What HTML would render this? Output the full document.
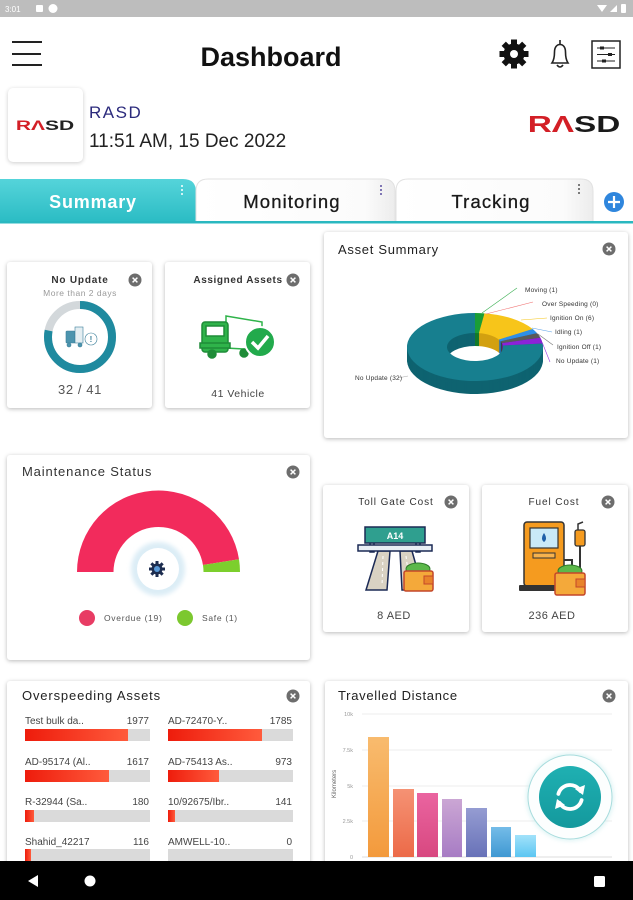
<!DOCTYPE html>
<html><head><meta charset="utf-8">
<style>
*{margin:0;padding:0;box-sizing:border-box}
html,body{width:633px;height:900px;overflow:hidden;background:#fff;font-family:"Liberation Sans",sans-serif}
body{position:relative}
.card{position:absolute;background:#fff;border-radius:3px;box-shadow:0 1px 4px rgba(0,0,0,.28)}
svg{position:absolute;left:0;top:0}
</style></head><body>
<div class="card" style="left:8px;top:88px;width:75px;height:74px;border-radius:5px;box-shadow:0 1px 4px rgba(0,0,0,.2)"></div>
<div class="card" style="left:7px;top:262px;width:145px;height:146px"></div>
<div class="card" style="left:165px;top:262px;width:145px;height:146px"></div>
<div class="card" style="left:324px;top:232px;width:304px;height:206px"></div>
<div class="card" style="left:7px;top:455px;width:303px;height:205px"></div>
<div class="card" style="left:323px;top:485px;width:146px;height:147px"></div>
<div class="card" style="left:482px;top:485px;width:146px;height:147px"></div>
<div class="card" style="left:7px;top:681px;width:303px;height:220px"></div>
<div class="card" style="left:325px;top:681px;width:303px;height:220px"></div>

<svg width="633" height="900" viewBox="0 0 633 900" font-family="Liberation Sans, sans-serif">
<defs>
  <linearGradient id="tabg" x1="0" y1="0" x2="0" y2="1"><stop offset="0" stop-color="#55d4da"/><stop offset="1" stop-color="#2bbcc4"/></linearGradient>
  <linearGradient id="tabw" x1="0" y1="0" x2="1" y2="0"><stop offset="0" stop-color="#ffffff"/><stop offset=".85" stop-color="#fbfbfb"/><stop offset="1" stop-color="#ececec"/></linearGradient>
  <linearGradient id="red" x1="0" y1="0" x2="1" y2="0"><stop offset="0" stop-color="#ee1c0c"/><stop offset="1" stop-color="#ff5b3c"/></linearGradient>
  <linearGradient id="b1" x1="0" y1="0" x2="0" y2="1"><stop offset="0" stop-color="#f8bb6e"/><stop offset="1" stop-color="#f39a3c"/></linearGradient>
  <linearGradient id="b2" x1="0" y1="0" x2="0" y2="1"><stop offset="0" stop-color="#f59274"/><stop offset="1" stop-color="#ec6a48"/></linearGradient>
  <linearGradient id="b3" x1="0" y1="0" x2="0" y2="1"><stop offset="0" stop-color="#ea64a0"/><stop offset="1" stop-color="#d84880"/></linearGradient>
  <linearGradient id="b4" x1="0" y1="0" x2="0" y2="1"><stop offset="0" stop-color="#cba6d4"/><stop offset="1" stop-color="#a77cc4"/></linearGradient>
  <linearGradient id="b5" x1="0" y1="0" x2="0" y2="1"><stop offset="0" stop-color="#959cd2"/><stop offset="1" stop-color="#6872b8"/></linearGradient>
  <linearGradient id="b6" x1="0" y1="0" x2="0" y2="1"><stop offset="0" stop-color="#74bce8"/><stop offset="1" stop-color="#3f98d2"/></linearGradient>
  <linearGradient id="b7" x1="0" y1="0" x2="0" y2="1"><stop offset="0" stop-color="#a2e2fa"/><stop offset="1" stop-color="#5cc6f2"/></linearGradient>
  <linearGradient id="fab" x1="0" y1="0" x2="0" y2="1"><stop offset="0" stop-color="#1fb0b2"/><stop offset="1" stop-color="#14999d"/></linearGradient>
  <filter id="glow" x="-30%" y="-30%" width="160%" height="160%"><feGaussianBlur stdDeviation="2"/></filter>
  <g id="cl"><circle r="6.5" fill="#6d6d6d"/><path d="M-2.4,-2.4L2.4,2.4M2.4,-2.4L-2.4,2.4" stroke="#fff" stroke-width="1.5"/></g>
  <g id="side"><g transform="translate(475,347) scale(1,0.5)">
    <path fill="#137a28" d="M0,-68 A68,68 0 0 1 9.47,-67.34 L3.90,-27.73 A28,28 0 0 0 0,-28 Z"/>
    <path fill="#d2a010" d="M9.47,-67.34 A68,68 0 0 1 57.66,-36.03 L23.74,-14.84 A28,28 0 0 0 3.90,-27.73 Z"/>
    <path fill="#2470b8" d="M57.66,-36.03 A68,68 0 0 1 62.12,-27.66 L25.58,-11.39 A28,28 0 0 0 23.74,-14.84 Z"/>
    <path fill="#3e3e3e" d="M62.12,-27.66 A68,68 0 0 1 65.37,-18.74 L26.92,-7.72 A28,28 0 0 0 25.58,-11.39 Z"/>
    <path fill="#6a17a8" d="M65.37,-18.74 A68,68 0 0 1 67.63,-7.11 L27.85,-2.93 A28,28 0 0 0 26.92,-7.72 Z"/>
    <path fill="#0e6370" d="M67.63,-7.11 A68,68 0 1 1 0,-68 L0,-28 A28,28 0 1 0 27.85,-2.93 Z"/>
  </g></g>
</defs>

<!-- status bar -->
<rect width="633" height="17" fill="#bdbdbd"/>
<text x="5" y="12" font-size="8" fill="#fff">3:01</text>
<rect x="36" y="5" width="7" height="7" rx="1" fill="#fff"/>
<circle cx="53" cy="8.5" r="4.5" fill="#fff"/>
<path d="M597,5 L607,5 L602,12 Z" fill="#fff"/>
<path d="M610,12 L617,5 L617,12 Z" fill="#fff"/>
<rect x="621" y="4" width="5" height="9" rx="1" fill="#fff"/>

<!-- header -->
<rect x="12" y="41" width="30" height="2" fill="#222"/>
<rect x="12" y="53" width="29" height="2" fill="#222"/>
<rect x="12" y="64" width="30" height="2" fill="#222"/>
<text x="271" y="66" font-size="27" font-weight="bold" fill="#111" text-anchor="middle">Dashboard</text>
<g transform="translate(514,54)" fill="#111">
  <circle r="10.5"/>
  <rect x="-3" y="-14.5" width="6" height="6" transform="rotate(0)"/>
  <rect x="-3" y="-14.5" width="6" height="6" transform="rotate(45)"/>
  <rect x="-3" y="-14.5" width="6" height="6" transform="rotate(90)"/>
  <rect x="-3" y="-14.5" width="6" height="6" transform="rotate(135)"/>
  <rect x="-3" y="-14.5" width="6" height="6" transform="rotate(180)"/>
  <rect x="-3" y="-14.5" width="6" height="6" transform="rotate(225)"/>
  <rect x="-3" y="-14.5" width="6" height="6" transform="rotate(270)"/>
  <rect x="-3" y="-14.5" width="6" height="6" transform="rotate(315)"/>
  <circle r="4" fill="#fff"/>
</g>
<g fill="none" stroke="#222" stroke-width="1.6">
  <path d="M552,63 C554,60 554.5,57 554.5,52 C554.5,47 557,44.5 560,44.5 C563,44.5 565.5,47 565.5,52 C565.5,57 566,60 568,63 Z"/>
  <path d="M560,40 L560,44.5"/>
  <path d="M557,65 Q560,69 563,65"/>
</g>
<g fill="none" stroke="#222">
  <rect x="592" y="41" width="28" height="27" stroke-width="1.5"/>
  <path d="M597,48 L615,48 M597,54.5 L615,54.5 M597,61 L615,61" stroke-width="1"/>
  <rect x="600" y="46.5" width="4" height="3" fill="#222" stroke="none"/>
  <rect x="608" y="53" width="4" height="3" fill="#222" stroke="none"/>
  <rect x="602" y="59.5" width="4" height="3" fill="#222" stroke="none"/>
</g>

<!-- company -->
<g transform="translate(45,130) scale(1.5,1)" font-size="14" font-weight="bold" text-anchor="middle"><text><tspan fill="#d31f26">RΛ</tspan><tspan fill="#222">SD</tspan></text></g>
<text x="89" y="118" font-size="17" fill="#2b2a7c" letter-spacing="1.5">RASD</text>
<text x="89" y="147" font-size="19" fill="#222">11:51 AM, 15 Dec 2022</text>
<g transform="translate(574,132) scale(1.45,1)" font-size="23" font-weight="bold" text-anchor="middle"><text><tspan fill="#d31f26">RΛ</tspan><tspan fill="#1a1a1a">SD</tspan></text></g>

<!-- tabs -->
<path d="M0,179 L183,179 Q196,179 196,192 L196,222 L0,222 Z" fill="url(#tabg)"/>
<path d="M196,222 L196,191 Q196,179 208,179 L383,179 Q395,179 395,191 L395,222 Z" fill="url(#tabw)" stroke="#e2e2e2"/>
<path d="M396,222 L396,191 Q396,179 408,179 L581,179 Q593,179 593,191 L593,222 Z" fill="url(#tabw)" stroke="#e2e2e2"/>
<text x="93" y="208" font-size="18" font-weight="bold" fill="#fff" text-anchor="middle" letter-spacing=".8">Summary</text>
<text x="292" y="208" font-size="18.5" fill="#1a1a1a" stroke="#1a1a1a" stroke-width=".3" text-anchor="middle" letter-spacing="1.1">Monitoring</text>
<text x="491" y="208" font-size="18.5" fill="#1a1a1a" stroke="#1a1a1a" stroke-width=".3" text-anchor="middle" letter-spacing="1.1">Tracking</text>
<g fill="#fff"><circle cx="182" cy="186" r="1"/><circle cx="182" cy="190" r="1"/><circle cx="182" cy="194" r="1"/></g>
<g fill="#5a4fa0"><circle cx="381" cy="186" r="1"/><circle cx="381" cy="190" r="1"/><circle cx="381" cy="194" r="1"/></g>
<g fill="#555"><circle cx="579" cy="185" r="1"/><circle cx="579" cy="189" r="1"/><circle cx="579" cy="193" r="1"/></g>
<rect x="0" y="221" width="633" height="2.5" fill="#2ab8c0"/>
<circle cx="614" cy="202" r="10" fill="#2f86dd"/>
<path d="M608,202 L620,202 M614,196 L614,208" stroke="#fff" stroke-width="2.2"/>

<!-- No Update card -->
<text x="80" y="283" font-size="10" font-weight="bold" fill="#333" text-anchor="middle" letter-spacing=".8">No Update</text>
<text x="80" y="296" font-size="8.5" fill="#9a9a9a" text-anchor="middle" letter-spacing=".5">More than 2 days</text>
<use href="#cl" x="135" y="280"/>
<circle cx="80" cy="337" r="32" fill="none" stroke="#d3d8db" stroke-width="8"/>
<circle cx="80" cy="337" r="32" fill="none" stroke="#1f8a9f" stroke-width="8" stroke-dasharray="157 201" transform="rotate(-90 80 337)"/>
<g fill="#4c94ae" stroke="#3a7f99" stroke-width=".6">
  <rect x="66" y="331" width="9" height="12" rx="1"/>
  <rect x="75" y="327" width="8" height="16" fill="#e4eef2"/>
  <circle cx="69" cy="345" r="2"/><circle cx="80" cy="345" r="2"/>
  <circle cx="91" cy="339" r="6" fill="#fff"/>
</g>
<text x="91" y="342" font-size="8" font-weight="bold" fill="#3a7f99" text-anchor="middle">!</text>
<text x="80" y="394" font-size="13" fill="#555" text-anchor="middle" letter-spacing=".6">32 / 41</text>

<!-- Assigned Assets -->
<text x="238" y="283" font-size="10" font-weight="bold" fill="#333" text-anchor="middle" letter-spacing=".6">Assigned Assets</text>
<use href="#cl" x="293" y="280"/>
<g stroke="#1f8c38" stroke-width="1.5">
  <polygon points="226,316 262,322 262,350 226,348" fill="#fff" stroke="#2fb34a"/>
  <rect x="202" y="322" width="26" height="30" rx="3" fill="#2fb34a"/>
  <rect x="206" y="326" width="18" height="10" fill="#fff"/>
  <rect x="200" y="343" width="30" height="5" fill="#2fb34a"/>
  <circle cx="212" cy="354" r="4" fill="#1f8c38"/>
  <circle cx="244" cy="353" r="4" fill="#1f8c38"/>
</g>
<circle cx="260" cy="342" r="15" fill="#22aa4c" stroke="#fff" stroke-width="2"/>
<path d="M252,342 L258,348 L268,336" fill="none" stroke="#fff" stroke-width="3.5"/>
<text x="238" y="397" font-size="10.5" fill="#444" text-anchor="middle" letter-spacing=".5">41 Vehicle</text>

<!-- Asset Summary -->
<text x="338" y="254" font-size="13" fill="#222" letter-spacing=".7">Asset Summary</text>
<use href="#cl" x="609" y="249"/>
<use href="#side" transform="translate(0,13)"/>
<use href="#side" transform="translate(0,12)"/>
<use href="#side" transform="translate(0,11)"/>
<use href="#side" transform="translate(0,10)"/>
<use href="#side" transform="translate(0,9)"/>
<use href="#side" transform="translate(0,8)"/>
<use href="#side" transform="translate(0,7)"/>
<use href="#side" transform="translate(0,6)"/>
<use href="#side" transform="translate(0,5)"/>
<use href="#side" transform="translate(0,4)"/>
<use href="#side" transform="translate(0,3)"/>
<use href="#side" transform="translate(0,2)"/>
<use href="#side" transform="translate(0,1)"/>
<g transform="translate(475,347) scale(1,0.5)">
  <path fill="#1a9e36" d="M0,-68 A68,68 0 0 1 9.47,-67.34 L3.90,-27.73 A28,28 0 0 0 0,-28 Z"/>
  <path fill="#f7c51a" d="M9.47,-67.34 A68,68 0 0 1 57.66,-36.03 L23.74,-14.84 A28,28 0 0 0 3.90,-27.73 Z"/>
  <path fill="#2f8fe8" d="M57.66,-36.03 A68,68 0 0 1 62.12,-27.66 L25.58,-11.39 A28,28 0 0 0 23.74,-14.84 Z"/>
  <path fill="#5a5a5a" d="M62.12,-27.66 A68,68 0 0 1 65.37,-18.74 L26.92,-7.72 A28,28 0 0 0 25.58,-11.39 Z"/>
  <path fill="#8b22d8" d="M65.37,-18.74 A68,68 0 0 1 67.63,-7.11 L27.85,-2.93 A28,28 0 0 0 26.92,-7.72 Z"/>
  <path fill="#177f8f" d="M67.63,-7.11 A68,68 0 1 1 0,-68 L0,-28 A28,28 0 1 0 27.85,-2.93 Z"/>
</g>
<g stroke-width=".6" fill="none">
  <path d="M482,313 L517,288" stroke="#3cb054"/>
  <path d="M486,314 L533,302" stroke="#f07070"/>
  <path d="M521,320 L547,318" stroke="#f5c518"/>
  <path d="M532,328 L552,332" stroke="#5aa0e8"/>
  <path d="M538,334 L553,345" stroke="#777"/>
  <path d="M542,342 L550,362" stroke="#9a3ae0"/>
  <path d="M398,378 L408,376" stroke="#aaa"/>
</g>
<g font-size="6.5" fill="#333" letter-spacing=".2">
  <text x="525" y="292">Moving (1)</text>
  <text x="542" y="306">Over Speeding (0)</text>
  <text x="550" y="320">Ignition On (6)</text>
  <text x="555" y="334">Idling (1)</text>
  <text x="557" y="349">Ignition Off (1)</text>
  <text x="556" y="363">No Update (1)</text>
  <text x="355" y="380">No Update (32)</text>
</g>

<!-- Maintenance -->
<text x="22" y="476" font-size="13" fill="#333" letter-spacing=".85">Maintenance Status</text>
<use href="#cl" x="293" y="472"/>
<path d="M77,572 A81.5,81.5 0 0 1 239,559.25 L202.95,564.96 A45,45 0 0 0 113.5,572 Z" fill="#f22b5c"/>
<path d="M239,559.25 A81.5,81.5 0 0 1 240,572 L203.5,572 A45,45 0 0 0 202.95,564.96 Z" fill="#7ccf2d"/>
<circle cx="158" cy="569" r="27" fill="#dcedf6" filter="url(#glow)"/>
<circle cx="158" cy="569" r="21" fill="#fff"/>
<g transform="translate(157,569)" fill="#1d2d50">
  <circle r="5.5"/>
  <rect x="-1.5" y="-8" width="3" height="3"/><rect x="-1.5" y="5" width="3" height="3"/>
  <rect x="-8" y="-1.5" width="3" height="3"/><rect x="5" y="-1.5" width="3" height="3"/>
  <rect x="-1.5" y="-8" width="3" height="3" transform="rotate(45)"/><rect x="-1.5" y="5" width="3" height="3" transform="rotate(45)"/>
  <rect x="-8" y="-1.5" width="3" height="3" transform="rotate(45)"/><rect x="5" y="-1.5" width="3" height="3" transform="rotate(45)"/>
  <circle r="3" fill="#5a9ad8"/>
</g>
<circle cx="87" cy="618" r="8" fill="#e83c64"/>
<text x="104" y="621" font-size="8.5" fill="#555" letter-spacing=".7">Overdue (19)</text>
<circle cx="185" cy="618" r="8" fill="#7cc82f"/>
<text x="202" y="621" font-size="8.5" fill="#555" letter-spacing=".7">Safe (1)</text>

<!-- Toll Gate -->
<text x="396" y="505" font-size="10" fill="#333" text-anchor="middle" letter-spacing=".9">Toll Gate Cost</text>
<use href="#cl" x="451" y="502"/>
<g stroke="#1b2a55" stroke-width="1.5">
  <rect x="370" y="538" width="4" height="14" fill="#e8eef5"/>
  <rect x="416" y="538" width="4" height="14" fill="#e8eef5"/>
  <rect x="365" y="527" width="60" height="16" fill="#2f9f8f"/>
  <polygon points="378,551 390,551 387,590 366,590" fill="#d9d2c3"/>
  <polygon points="400,551 412,551 423,590 402,590" fill="#d9d2c3"/>
  <rect x="358" y="545" width="74" height="6" fill="#e8eef5"/>
</g>
<text x="395" y="539" font-size="9" font-weight="bold" fill="#fff" text-anchor="middle">A14</text>
<path d="M383,556 L382,586 M406,556 L410,586" stroke="#fff" stroke-width="1" stroke-dasharray="3 3"/>
<ellipse cx="418" cy="569" rx="12" ry="6" fill="#5cb84a" stroke="#2f7a2a"/>
<rect x="404" y="571" width="29" height="20" rx="2" fill="#f4a93a" stroke="#c4472a" stroke-width="1.5"/>
<rect x="424" y="576" width="9" height="8" fill="#e8832a" stroke="#c4472a"/>
<text x="394" y="619" font-size="11" fill="#444" text-anchor="middle" letter-spacing=".5">8 AED</text>

<!-- Fuel Cost -->
<text x="554" y="505" font-size="10" fill="#333" text-anchor="middle" letter-spacing=".9">Fuel Cost</text>
<use href="#cl" x="608" y="502"/>
<path d="M564,560 L572,560 L572,578 Q572,584 578,584 L580,584 L580,546" stroke="#333" stroke-width="2" fill="none"/>
<rect x="575" y="530" width="10" height="16" rx="2" fill="#f59b1f" stroke="#333" stroke-width="1.3"/>
<path d="M578,530 L578,524 L583,522" stroke="#333" stroke-width="1.5" fill="none"/>
<rect x="524" y="522" width="40" height="64" rx="3" fill="#f59b1f" stroke="#333" stroke-width="1.5"/>
<rect x="530" y="528" width="28" height="20" fill="#c9e9f7" stroke="#333" stroke-width="1.2"/>
<path d="M544,533 Q548,539 544,542 Q540,539 544,533 Z" fill="#1f5fa8"/>
<rect x="533" y="553" width="22" height="5" fill="#f6b24e" stroke="#333"/>
<rect x="519" y="585" width="50" height="6" rx="1" fill="#333"/>
<ellipse cx="570" cy="571" rx="12" ry="6" fill="#5cb84a" stroke="#2f7a2a"/>
<rect x="555" y="573" width="30" height="22" rx="2" fill="#f4a93a" stroke="#c4472a" stroke-width="1.5"/>
<rect x="576" y="579" width="9" height="8" fill="#e8832a" stroke="#c4472a"/>
<text x="552" y="619" font-size="11" fill="#444" text-anchor="middle" letter-spacing=".5">236 AED</text>

<!-- Overspeeding -->
<text x="22" y="700" font-size="13" fill="#222" letter-spacing=".85">Overspeeding Assets</text>
<use href="#cl" x="293" y="696"/>
<g font-size="10" fill="#444">
  <text x="25" y="724">Test bulk da..</text><text x="149" y="724" text-anchor="end">1977</text>
  <text x="168" y="724">AD-72470-Y..</text><text x="292" y="724" text-anchor="end">1785</text>
  <text x="25" y="765">AD-95174 (Al..</text><text x="149" y="765" text-anchor="end">1617</text>
  <text x="168" y="765">AD-75413 As..</text><text x="292" y="765" text-anchor="end">973</text>
  <text x="25" y="805">R-32944 (Sa..</text><text x="149" y="805" text-anchor="end">180</text>
  <text x="168" y="805">10/92675/Ibr..</text><text x="292" y="805" text-anchor="end">141</text>
  <text x="25" y="845">Shahid_42217</text><text x="149" y="845" text-anchor="end">116</text>
  <text x="168" y="845">AMWELL-10..</text><text x="292" y="845" text-anchor="end">0</text>
</g>
<g fill="#dadada">
  <rect x="25" y="729" width="125" height="12"/><rect x="168" y="729" width="125" height="12"/>
  <rect x="25" y="770" width="125" height="12"/><rect x="168" y="770" width="125" height="12"/>
  <rect x="25" y="810" width="125" height="12"/><rect x="168" y="810" width="125" height="12"/>
  <rect x="25" y="849" width="125" height="12"/><rect x="168" y="849" width="125" height="12"/>
</g>
<g fill="url(#red)">
  <rect x="25" y="729" width="103" height="12"/><rect x="168" y="729" width="94" height="12"/>
  <rect x="25" y="770" width="84" height="12"/><rect x="168" y="770" width="51" height="12"/>
  <rect x="25" y="810" width="9" height="12"/><rect x="168" y="810" width="7" height="12"/>
  <rect x="25" y="849" width="6" height="12"/>
</g>

<!-- Travelled Distance -->
<text x="338" y="700" font-size="13" fill="#222" letter-spacing=".7">Travelled Distance</text>
<use href="#cl" x="609" y="696"/>
<g stroke="#eeeeee" stroke-width="1">
  <path d="M362,714 L612,714 M362,750 L612,750 M362,786 L612,786 M362,821 L612,821"/>
</g>
<path d="M362,857 L612,857" stroke="#dddddd"/>
<g font-size="5.5" fill="#999" text-anchor="end">
  <text x="353" y="716">10k</text><text x="353" y="752">7.5k</text><text x="353" y="788">5k</text><text x="353" y="823">2.5k</text><text x="353" y="859">0</text>
</g>
<text transform="translate(336,784) rotate(-90)" font-size="6" fill="#666" text-anchor="middle">Kilometers</text>
<rect x="368" y="737" width="21" height="120" fill="url(#b1)"/>
<rect x="393" y="789" width="21" height="68" fill="url(#b2)"/>
<rect x="417" y="793" width="21" height="64" fill="url(#b3)"/>
<rect x="442" y="799" width="20" height="58" fill="url(#b4)"/>
<rect x="466" y="808" width="21" height="49" fill="url(#b5)"/>
<rect x="491" y="827" width="20" height="30" fill="url(#b6)"/>
<rect x="515" y="835" width="21" height="22" fill="url(#b7)"/>

<!-- FAB -->
<circle cx="570" cy="797" r="44" fill="#bfe9ea" opacity=".5" filter="url(#glow)"/>
<circle cx="570" cy="797" r="42" fill="#fff" fill-opacity=".9" stroke="#a8dcdd" stroke-width="1"/>
<circle cx="570" cy="797" r="31" fill="url(#fab)"/>
<g fill="none" stroke="#fff" stroke-width="3.8" stroke-linecap="round">
  <path d="M558.4,793.9 A12,12 0 0 1 580.4,791"/>
  <path d="M581.6,800.1 A12,12 0 0 1 559.6,803"/>
</g>
<polygon points="575,789 585,785 583,795" fill="#fff"/>
<polygon points="565,805 555,809 557,799" fill="#fff"/>

<!-- nav bar -->
<rect x="0" y="861" width="633" height="39" fill="#000"/>
<polygon points="28,881 38,875 38,887" fill="#fff"/>
<circle cx="90" cy="881" r="5.5" fill="#fff"/>
<rect x="594" y="876" width="11" height="11" rx="1.5" fill="#fff"/>
</svg>
</body></html>
